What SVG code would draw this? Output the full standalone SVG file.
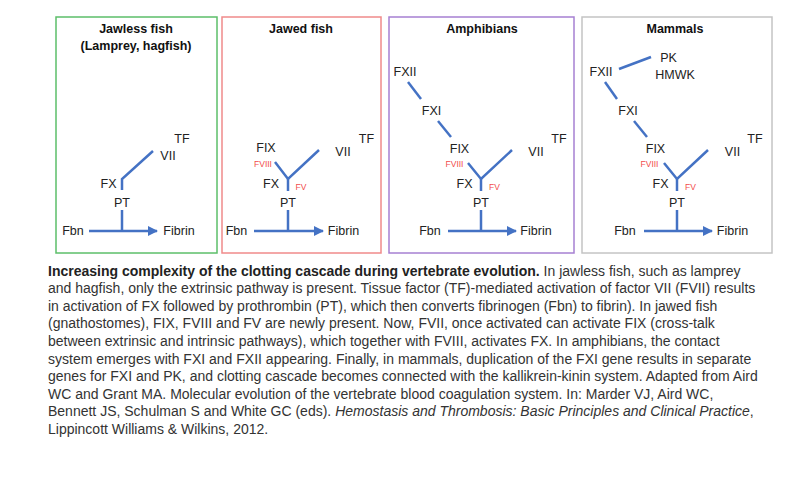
<svg xmlns="http://www.w3.org/2000/svg" width="800" height="479" viewBox="0 0 800 479">
<defs>
<marker id="arr" viewBox="0 0 10 10" refX="9" refY="5" markerWidth="4" markerHeight="4" orient="auto" markerUnits="strokeWidth">
<path d="M0,0 L10,5 L0,10 z" fill="#4472c4"/>
</marker>
<style>
.box{fill:#fff;stroke-width:1.5}
.title{font-family:"Liberation Sans",Arial,sans-serif;font-weight:bold;font-size:12.5px;fill:#111;text-anchor:middle}
.lb{font-family:"Liberation Sans",Arial,sans-serif;font-size:12.5px;fill:#222;text-anchor:middle}
.rd{font-family:"Liberation Sans",Arial,sans-serif;font-size:8.5px;fill:#f24b4b;text-anchor:middle}
.ln{stroke:#4472c4;stroke-width:2.5;fill:none}
.arw{stroke:#4472c4;stroke-width:2.5;fill:none;marker-end:url(#arr)}
.cap{font-family:"Liberation Sans",Arial,sans-serif;font-size:14px;fill:#333}
</style>
</defs>
<rect width="800" height="479" fill="#fff"/>

<g id="panel-jawless">
<rect class="box" x="56" y="17" width="161" height="236" stroke="#5cbf6a"/>
<text class="title" x="136" y="33">Jawless fish</text>
<text class="title" x="136" y="50">(Lamprey, hagfish)</text>
<text class="lb" x="182" y="143">TF</text>
<text class="lb" x="168" y="160">VII</text>
<text class="lb" x="108.5" y="188">FX</text>
<text class="lb" x="122" y="207">PT</text>
<text class="lb" x="73" y="235">Fbn</text>
<text class="lb" x="179" y="235">Fibrin</text>
</g>

<g id="panel-jawed">
<rect class="box" x="222" y="17" width="159" height="236" stroke="#f08a8a"/>
<text class="title" x="301" y="33">Jawed fish</text>
<text class="lb" x="366.5" y="143">TF</text>
<text class="lb" x="343" y="156">VII</text>
<text class="lb" x="266" y="152">FIX</text>
<text class="rd" x="263" y="167">FVIII</text>
<text class="lb" x="271" y="188">FX</text>
<text class="rd" x="301" y="190">FV</text>
<text class="lb" x="288" y="207">PT</text>
<text class="lb" x="236.5" y="235">Fbn</text>
<text class="lb" x="343.5" y="235">Fibrin</text>
</g>

<g id="panel-amphibians">
<rect class="box" x="389" y="17" width="185" height="236" stroke="#a680d2"/>
<text class="title" x="482" y="33">Amphibians</text>
<text class="lb" x="405" y="76">FXII</text>
<text class="lb" x="431.5" y="115">FXI</text>
<text class="lb" x="459.5" y="153">FIX</text>
<text class="rd" x="454.5" y="167">FVIII</text>
<text class="lb" x="536" y="156">VII</text>
<text class="lb" x="559" y="143">TF</text>
<text class="lb" x="464.5" y="188">FX</text>
<text class="rd" x="494.5" y="190">FV</text>
<text class="lb" x="481" y="207">PT</text>
<text class="lb" x="430" y="235">Fbn</text>
<text class="lb" x="536" y="235">Fibrin</text>
</g>

<g id="panel-mammals">
<rect class="box" x="582" y="17" width="190" height="236" stroke="#c4c4c4"/>
<text class="title" x="675" y="33">Mammals</text>
<text class="lb" x="668.5" y="62">PK</text>
<text class="lb" x="675" y="79">HMWK</text>
<text class="lb" x="601" y="76">FXII</text>
<text class="lb" x="628" y="115">FXI</text>
<text class="lb" x="655.5" y="153">FIX</text>
<text class="rd" x="649.5" y="167">FVIII</text>
<text class="lb" x="732.5" y="156">VII</text>
<text class="lb" x="755" y="143">TF</text>
<text class="lb" x="660.5" y="188">FX</text>
<text class="rd" x="690.5" y="190">FV</text>
<text class="lb" x="677" y="207">PT</text>
<text class="lb" x="625" y="235">Fbn</text>
<text class="lb" x="732.5" y="235">Fibrin</text>
</g>

<g id="connectors">
<path class="ln" d="M153,151 L122,179 L122,190"/>
<path class="ln" d="M122,210 L122,231"/>
<path class="arw" d="M89,231 L157,231"/>
<path class="ln" d="M275,162 L288,179 L319,150"/>
<path class="ln" d="M288,179 L288,191"/>
<path class="ln" d="M288,210 L288,231"/>
<path class="arw" d="M254,231 L323,231"/>
<path class="ln" d="M408,82 L421,99"/>
<path class="ln" d="M438,121 L451,137"/>
<path class="ln" d="M468,163 L481,179 L512,150"/>
<path class="ln" d="M481,179 L481,191"/>
<path class="ln" d="M481,210 L481,231"/>
<path class="arw" d="M448,231 L516,231"/>
<path class="ln" d="M619,69 L651,57"/>
<path class="ln" d="M605,82 L617,99"/>
<path class="ln" d="M634,121 L647,137"/>
<path class="ln" d="M664,163 L677,179 L708,150"/>
<path class="ln" d="M677,179 L677,191"/>
<path class="ln" d="M677,210 L677,231"/>
<path class="arw" d="M644,231 L712,231"/>
</g>

<g id="caption">
<text class="cap" x="48" y="275.5"><tspan font-weight="bold" fill="#222">Increasing complexity of the clotting cascade during vertebrate evolution.</tspan> In jawless fish, such as lamprey</text>
<text class="cap" x="48" y="293.1">and hagfish, only the extrinsic pathway is present. Tissue factor (TF)-mediated activation of factor VII (FVII) results</text>
<text class="cap" x="48" y="310.7">in activation of FX followed by prothrombin (PT), which then converts fibrinogen (Fbn) to fibrin). In jawed fish</text>
<text class="cap" x="48" y="328.3">(gnathostomes), FIX, FVIII and FV are newly present. Now, FVII, once activated can activate FIX (cross-talk</text>
<text class="cap" x="48" y="345.9">between extrinsic and intrinsic pathways), which together with FVIII, activates FX. In amphibians, the contact</text>
<text class="cap" x="48" y="363.5">system emerges with FXI and FXII appearing. Finally, in mammals, duplication of the FXI gene results in separate</text>
<text class="cap" x="48" y="381.1">genes for FXI and PK, and clotting cascade becomes connected with the kallikrein-kinin system. Adapted from Aird</text>
<text class="cap" x="48" y="398.7">WC and Grant MA. Molecular evolution of the vertebrate blood coagulation system. In: Marder VJ, Aird WC,</text>
<text class="cap" x="48" y="416.3">Bennett JS, Schulman S and White GC (eds). <tspan font-style="italic">Hemostasis and Thrombosis: Basic Principles and Clinical Practice</tspan>,</text>
<text class="cap" x="48" y="433.9">Lippincott Williams &amp; Wilkins, 2012.</text>
</g>
</svg>
